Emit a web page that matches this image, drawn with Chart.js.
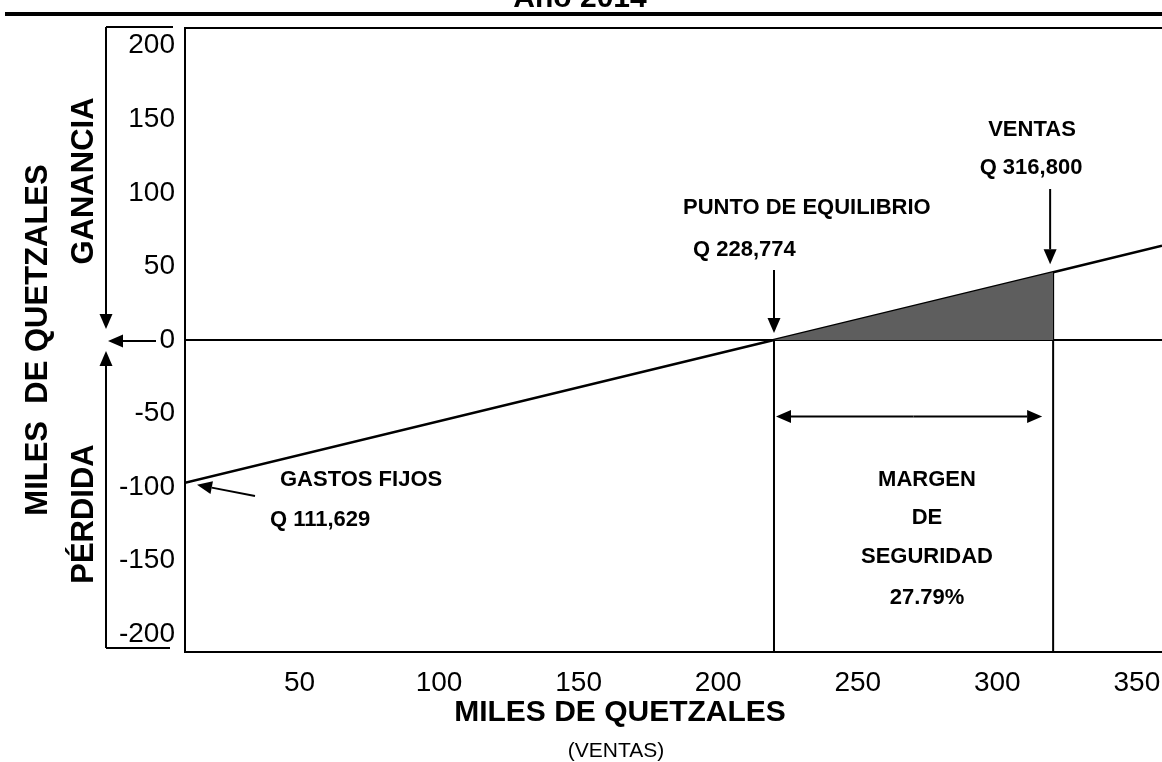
<!DOCTYPE html>
<html>
<head>
<meta charset="utf-8">
<script src="https://cdn.jsdelivr.net/npm/chart.js@4.4.1/dist/chart.umd.min.js"></script>
<style>
  html, body { margin: 0; padding: 0; background: #fff; }
  canvas { display: block; }
</style>
</head>
<body>
<canvas id="peChart" width="1162" height="762"></canvas>
<script>
// Punto de equilibrio - miles de quetzales
const xTicks = [50, 100, 150, 200, 250, 300, 350];
const yTicks = [-200, -150, -100, -50, 0, 50, 100, 150, 200];
const xLimits = [9, 359];
const yLimits = [-212, 212];

// recta ganancia / perdida segun ventas
const lineX = [9, 220, 320, 359];
const lineY = [-97, 0, 46, 64];

const equilibrioX = 220;
const ventasX = 320;
const ventasY = 46;
const margenY = -52;

const FONT = "'Liberation Sans', Arial, Helvetica, sans-serif";
Chart.defaults.font.family = FONT;
Chart.defaults.color = '#000';

function arrow(ctx, x1, y1, x2, y2) {
  const ang = Math.atan2(y2 - y1, x2 - x1), len = 15, w = 6.5;
  const bx = x2 - len * Math.cos(ang), by = y2 - len * Math.sin(ang);
  ctx.beginPath(); ctx.moveTo(x1, y1); ctx.lineTo(bx, by); ctx.stroke();
  ctx.beginPath(); ctx.moveTo(x2, y2);
  ctx.lineTo(bx + w * Math.sin(ang), by - w * Math.cos(ang));
  ctx.lineTo(bx - w * Math.sin(ang), by + w * Math.cos(ang));
  ctx.closePath(); ctx.fill();
}

function seg(ctx, x1, y1, x2, y2) {
  ctx.beginPath(); ctx.moveTo(x1, y1); ctx.lineTo(x2, y2); ctx.stroke();
}

function text(ctx, s, x, y, font, align) {
  ctx.font = font;
  ctx.textAlign = align || 'center';
  ctx.textBaseline = 'middle';
  ctx.fillText(s, x, y);
}

function vtext(ctx, s, x, y, font) {
  ctx.save();
  ctx.translate(x, y);
  ctx.rotate(-Math.PI / 2);
  text(ctx, s, 0, 0, font);
  ctx.restore();
}

const overlay = {
  id: 'overlay',
  afterDraw(chart) {
    const { ctx, chartArea: a, scales: { x, y } } = chart;
    const px = v => x.getPixelForValue(v), py = v => y.getPixelForValue(v);
    const bold = n => 'bold ' + n + 'px ' + FONT;
    ctx.save();
    ctx.strokeStyle = '#000';
    ctx.fillStyle = '#000';

    // encabezado cortado
    ctx.lineWidth = 4;
    seg(ctx, 5, 14, 1162, 14);
    ctx.font = bold(30);
    ctx.textAlign = 'center';
    ctx.textBaseline = 'alphabetic';
    ctx.fillText('Año 2014', 580, 7);

    ctx.lineWidth = 2;
    seg(ctx, a.left, a.top, a.right, a.top);

    // corchete del eje y
    const y0 = py(0) + 1;
    ctx.beginPath(); ctx.moveTo(173, 27); ctx.lineTo(106, 27); ctx.stroke();
    arrow(ctx, 106, 27, 106, y0 - 12);
    ctx.beginPath(); ctx.moveTo(170, 648); ctx.lineTo(106, 648); ctx.stroke();
    arrow(ctx, 106, 648, 106, y0 + 10);
    arrow(ctx, 156, y0, 108, y0);

    // titulos de ejes
    vtext(ctx, 'MILES  DE QUETZALES', 38, 340, bold(31));
    vtext(ctx, 'GANANCIA', 84, 181, bold(31));
    vtext(ctx, 'PÉRDIDA', 84, 514, bold(31));
    text(ctx, 'MILES DE QUETZALES', 620, 713, bold(30));
    text(ctx, '(VENTAS)', 616, 751, '21px ' + FONT);

    // anotaciones
    const ex = px(equilibrioX), vx = px(ventasX);
    arrow(ctx, ex, 270, ex, py(0) - 7);
    text(ctx, 'PUNTO DE EQUILIBRIO', 683, 208, bold(22), 'left');
    text(ctx, 'Q 228,774', 693, 250, bold(22), 'left');

    arrow(ctx, vx - 3, 189, vx - 3, py(ventasY) - 8);
    text(ctx, 'VENTAS', 1032, 130, bold(22));
    text(ctx, 'Q 316,800', 1031, 168, bold(22));

    arrow(ctx, 255, 496, px(lineX[0]) + 12, py(lineY[0]) + 2);
    text(ctx, 'GASTOS FIJOS', 280, 480, bold(22), 'left');
    text(ctx, 'Q 111,629', 270, 520, bold(22), 'left');

    const my = py(margenY);
    arrow(ctx, (ex + vx) / 2, my, ex + 2, my);
    arrow(ctx, (ex + vx) / 2, my, vx - 11, my);
    const mx = 927;
    text(ctx, 'MARGEN', mx, 480, bold(22));
    text(ctx, 'DE', mx, 518, bold(22));
    text(ctx, 'SEGURIDAD', mx, 557, bold(22));
    text(ctx, '27.79%', mx, 598, bold(22));
    ctx.restore();
  }
};

const toPts = (xs, ys) => xs.map((v, i) => ({ x: v, y: ys[i] }));

new Chart(document.getElementById('peChart'), {
  type: 'scatter',
  data: {
    datasets: [
      {
        // margen de seguridad sombreado
        data: [{ x: equilibrioX, y: 0 }, { x: ventasX, y: ventasY }],
        showLine: true,
        borderWidth: 0,
        pointRadius: 0,
        fill: 'origin',
        backgroundColor: '#5e5e5e'
      },
      {
        data: toPts(lineX, lineY),
        showLine: true,
        borderColor: '#000',
        borderWidth: 2.5,
        pointRadius: 0
      },
      {
        data: [{ x: equilibrioX, y: 0 }, { x: equilibrioX, y: yLimits[0] }],
        showLine: true,
        borderColor: '#000',
        borderWidth: 2,
        pointRadius: 0
      },
      {
        data: [{ x: ventasX, y: ventasY }, { x: ventasX, y: yLimits[0] }],
        showLine: true,
        borderColor: '#000',
        borderWidth: 2,
        pointRadius: 0
      }
    ]
  },
  options: {
    responsive: false,
    animation: false,
    layout: { padding: { top: 28, right: 0, left: 0, bottom: 0 } },
    plugins: {
      legend: { display: false },
      tooltip: { enabled: false }
    },
    scales: {
      x: {
        type: 'linear',
        min: xLimits[0],
        max: xLimits[1],
        afterBuildTicks: s => { s.ticks = xTicks.map(v => ({ value: v })); },
        afterFit: s => { s.height = 110; s.paddingRight = 0; s.paddingLeft = 0; },
        grid: { display: false },
        border: { display: true, color: '#000', width: 2 },
        ticks: { font: { size: 28 }, padding: 6, maxRotation: 0, color: '#000' }
      },
      y: {
        type: 'linear',
        min: yLimits[0],
        max: yLimits[1],
        afterBuildTicks: s => { s.ticks = yTicks.map(v => ({ value: v })); },
        afterFit: s => { s.width = 185; s.paddingTop = 0; s.paddingBottom = 0; },
        grid: {
          drawTicks: false,
          color: c => (c.tick && c.tick.value === 0 ? '#000' : 'rgba(0,0,0,0)'),
          lineWidth: 2
        },
        border: { display: true, color: '#000', width: 2 },
        ticks: { font: { size: 28 }, padding: 10, color: '#000' }
      }
    }
  },
  plugins: [overlay]
});
</script>
</body>
</html>
